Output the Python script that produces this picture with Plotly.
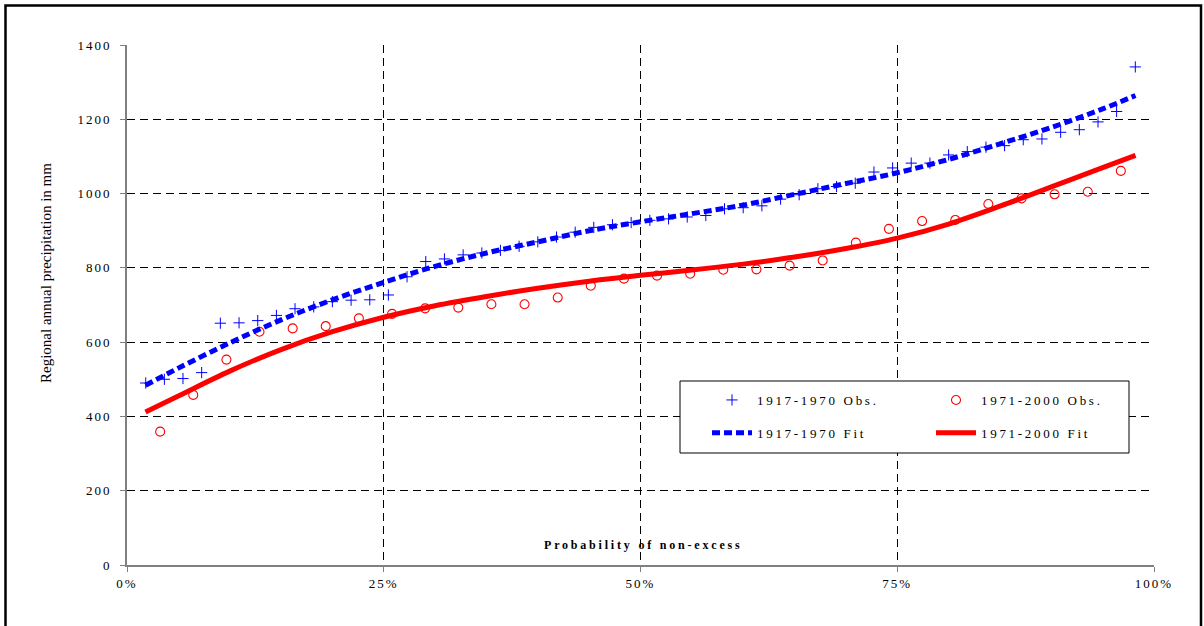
import plotly.graph_objects as go

# ---------------- data ----------------
p_1917 = [1.82, 3.64, 5.45, 7.27, 9.09, 10.91, 12.73, 14.55, 16.36, 18.18,
          20.00, 21.82, 23.64, 25.45, 27.27, 29.09, 30.91, 32.73, 34.55, 36.36,
          38.18, 40.00, 41.82, 43.64, 45.45, 47.27, 49.09, 50.91, 52.73, 54.55,
          56.36, 58.18, 60.00, 61.82, 63.64, 65.45, 67.27, 69.09, 70.91, 72.73,
          74.55, 76.36, 78.18, 80.00, 81.82, 83.64, 85.45, 87.27, 89.09, 90.91,
          92.73, 94.55, 96.36, 98.18]
obs_1917 = [490, 500, 502, 518, 651, 652, 658, 672, 690, 695,
            709, 713, 714, 727, 776, 817, 824, 835, 840, 847,
            858, 870, 883, 896, 909, 916, 922, 928, 932, 937,
            941, 959, 962, 967, 985, 997, 1013, 1019, 1028, 1058,
            1069, 1082, 1082, 1104, 1113, 1125, 1129, 1145, 1147, 1165,
            1172, 1193, 1221, 1341]

p_1971 = [3.23, 6.45, 9.68, 12.90, 16.13, 19.35, 22.58, 25.81, 29.03, 32.26,
          35.48, 38.71, 41.94, 45.16, 48.39, 51.61, 54.84, 58.06, 61.29, 64.52,
          67.74, 70.97, 74.19, 77.42, 80.65, 83.87, 87.10, 90.32, 93.55, 96.77]
obs_1971 = [359, 458, 553, 628, 637, 643, 664, 676, 691, 693,
            702, 702, 720, 752, 771, 779, 784, 795, 796, 806,
            820, 868, 905, 926, 929, 972, 987, 998, 1005, 1061]

p_fit = [1.8, 5, 10, 15, 20, 25, 30, 35, 40, 45, 50,
         55, 60, 65, 70, 75, 80, 85, 90, 95, 98.2]
fit_1917 = [484, 530, 598, 660, 714, 761, 804, 840, 870, 900, 924,
            946, 969, 998, 1027, 1056, 1092, 1134, 1178, 1228, 1264]
fit_1971 = [412, 455, 522, 580, 628, 667, 698, 723, 745, 764, 780,
            794, 810, 829, 852, 880, 918, 966, 1018, 1070, 1103]

x_ticks = [0, 25, 50, 75, 100]
x_ticktext = ["0%", "25%", "50%", "75%", "100%"]
y_ticks = [0, 200, 400, 600, 800, 1000, 1200, 1400]

names = ["1917-1970 Obs.", "1971-2000 Obs.", "1917-1970 Fit", "1971-2000 Fit"]

BLUE = "#0000FF"
RED = "#FF0000"
SERIF = "Liberation Serif, Times New Roman, serif"

fig = go.Figure()
fig.add_trace(go.Scatter(
    x=p_1917, y=obs_1917, mode="markers", name=names[0],
    legend="legend", legendgroup="a",
    marker=dict(symbol="cross-thin", size=8, line=dict(color=BLUE, width=1), color=BLUE)))
fig.add_trace(go.Scatter(
    x=p_1971, y=obs_1971, mode="markers", name=names[1],
    legend="legend2", legendgroup="b",
    marker=dict(symbol="circle-open", size=9, line=dict(color=RED, width=1.1), color=RED)))
fig.add_trace(go.Scatter(
    x=p_fit, y=fit_1917, mode="lines", name=names[2], line_shape="spline",
    legend="legend", legendgroup="c",
    line=dict(color=BLUE, width=5, dash="8px,4px")))
fig.add_trace(go.Scatter(
    x=p_fit, y=fit_1971, mode="lines", name=names[3], line_shape="spline",
    legend="legend2", legendgroup="d",
    line=dict(color=RED, width=5)))

# pixel helpers for paper coordinates
L, R, T, B, W, H = 127, 50, 45, 61, 1204, 626
PW, PH = W - L - R, H - T - B
def px(x):
    return (x - L) / PW
def py(y):
    return (H - B - y) / PH

axis_common = dict(
    showline=True, linecolor="#808080", linewidth=2,
    ticks="outside", ticklen=5, tickcolor="#808080", tickwidth=1,
    showgrid=True, gridcolor="#000000", gridwidth=1, griddash="8px,5px",
    zeroline=False,
    tickfont=dict(family=SERIF, size=13, color="#000000"),
)

legend_common = dict(xanchor="left", yanchor="top",
                     bgcolor="rgba(0,0,0,0)", borderwidth=0, itemwidth=40,
                     tracegroupgap=13,
                     font=dict(family=SERIF, size=13, color="#000000"))

fig.update_layout(
    width=W, height=H,
    margin=dict(l=L, r=R, t=T, b=B),
    paper_bgcolor="white", plot_bgcolor="white",
    xaxis=dict(range=[0, 100], tickmode="array", tickvals=x_ticks, ticktext=x_ticktext,
               ticklabelstandoff=0, **axis_common),
    yaxis=dict(range=[0, 1400], tickvals=y_ticks, ticklabelstandoff=6,
               **axis_common),
    legend=dict(x=px(707), y=py(385), **legend_common),
    legend2=dict(x=px(931), y=py(385), **legend_common),
    showlegend=True,
    shapes=[
        dict(type="rect", xref="paper", yref="paper",
             x0=px(680), x1=px(1129), y0=py(453), y1=py(381),
             line=dict(color="#000000", width=1), fillcolor="white", layer="above"),
        dict(type="rect", xref="paper", yref="paper",
             x0=px(5.5), x1=px(1201), y0=py(5.5), y1=py(660),
             line=dict(color="#000000", width=2.5), fillcolor="rgba(0,0,0,0)", layer="above"),
    ],
    annotations=[
        dict(text="Regional annual precipitation in mm", xref="paper", yref="paper",
             x=px(46), y=py(273), textangle=-90, showarrow=False,
             xanchor="center", yanchor="middle",
             font=dict(family=SERIF, size=15, color="#000000")),
        dict(text="<b>Probability of non-excess</b>", xref="paper", yref="paper",
             x=px(643), y=py(545), showarrow=False,
             xanchor="center", yanchor="middle",
             font=dict(family=SERIF, size=12, color="#000000")),
    ],
)

post = """
var gd = document.getElementById('{plot_id}');
function spacing(){
  gd.querySelectorAll('.xtick text, .ytick text').forEach(function(t){t.style.letterSpacing='2px';});
  gd.querySelectorAll('.legendtext, .legend2text').forEach(function(t){t.style.letterSpacing='2.7px';});
  gd.querySelectorAll('.scrollbox').forEach(function(s){
    if (s.hasAttribute('clip-path')) { s.removeAttribute('clip-path'); }
  });
  gd.querySelectorAll('.annotation-text').forEach(function(t){
    if (t.textContent.indexOf('Probability') === 0) { t.style.letterSpacing = '2.8px'; }
  });
}
spacing();
try {
  var mo = new MutationObserver(function(){ spacing(); });
  mo.observe(gd, {childList: true, subtree: true, characterData: true});
} catch (e) {}
[0, 30, 100, 250, 500, 1000, 2000].forEach(function(ms){ setTimeout(spacing, ms); });
if (gd.on) { gd.on('plotly_afterplot', spacing); }
"""

fig.write_html("out.html", post_script=post)
